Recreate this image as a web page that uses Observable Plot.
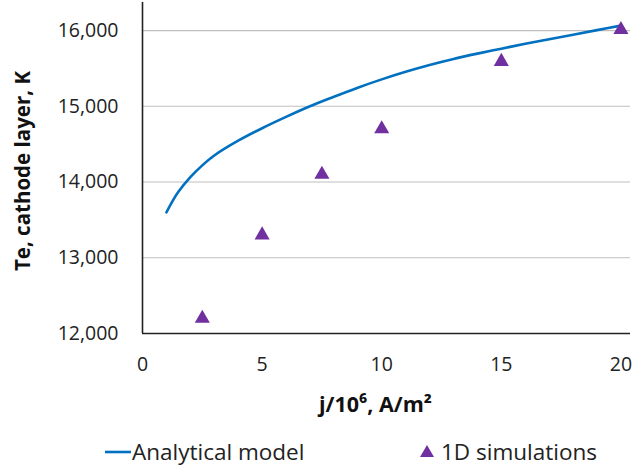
<!DOCTYPE html>
<html>
<head>
<meta charset="utf-8">
<script src="https://cdn.jsdelivr.net/npm/d3@7"></script>
<script src="https://cdn.jsdelivr.net/npm/@observablehq/plot@0.6"></script>
<style>
  html, body { margin: 0; padding: 0; background: #fff; }
  body { width: 632px; height: 469px; overflow: hidden; font-family: "Open Sans", sans-serif; }
  #legend { position: relative; height: 37px; font-size: 22.5px; color: #222; }
  #legend .item { position: absolute; top: 4px; display: flex; align-items: center; white-space: nowrap; }
</style>
</head>
<body>
<div id="chart"></div>
<div id="legend">
  <div class="item" style="left:105px"><svg width="26" height="24"><line x1="0" x2="26" y1="12" y2="12" stroke="#0070C0" stroke-width="2.6"/></svg><span style="margin-left:1px">Analytical model</span></div>
  <div class="item" style="left:418px"><svg width="18" height="24"><path d="M9,5 L16,17 L2,17 Z" fill="#7030A0"/></svg><span style="margin-left:5px">1D simulations</span></div>
</div>
<script>
// Analytical model curve
const modelJ = [1, 1.25, 1.5, 2, 2.5, 3, 4, 5, 6, 7, 8, 9, 10, 11, 12, 13, 14, 15, 16, 17, 18, 19, 20];
const modelTe = [13600, 13745, 13870, 14065, 14220, 14350, 14545, 14710, 14860, 15000, 15125, 15245, 15355, 15455, 15545, 15625, 15695, 15760, 15825, 15885, 15945, 16005, 16065];

// 1D simulations
const simJ = [2.5, 5, 7.5, 10, 15, 20];
const simTe = [12200, 13300, 14100, 14700, 15590, 16010];

const xTicks = [0, 5, 10, 15, 20];
const yTicks = [12000, 13000, 14000, 15000, 16000];
const yGrid = [13000, 14000, 15000, 16000];

const xTitle = "j/10⁶, A/m²";
const yTitle = "Te, cathode layer, K";

const model = modelJ.map((j, i) => ({j, te: modelTe[i]}));
const sim = simJ.map((j, i) => ({j, te: simTe[i]}));

const fmt = d3.format(",");

const chart = Plot.plot({
  width: 632,
  height: 432,
  marginLeft: 142,
  marginRight: 2,
  marginTop: 2,
  marginBottom: 99,
  style: {fontFamily: "Open Sans, sans-serif", fontSize: "19.5px", color: "#222", background: "#fff"},
  x: {domain: [0, 20.4], ticks: xTicks, tickFormat: d => String(d), tickSize: 0, tickPadding: 24, label: null},
  y: {domain: [12000, 16370], ticks: yTicks, tickFormat: fmt, tickSize: 0, tickPadding: 24, label: null},
  marks: [
    Plot.ruleY(yGrid, {stroke: "#bfbfbf", strokeWidth: 1.2}),
    Plot.ruleX([0], {stroke: "#222", strokeWidth: 1.6}),
    Plot.ruleY([12000], {stroke: "#222", strokeWidth: 1.6}),
    Plot.line(model, {x: "j", y: "te", stroke: "#0070C0", strokeWidth: 2.6, curve: "catmull-rom"}),
    Plot.dot(sim, {x: "j", y: "te", symbol: "triangle", r: 5.6, fill: "#7030A0", stroke: "none"}),
    Plot.text([yTitle], {frameAnchor: "left", textAnchor: "middle", rotate: -90, dx: -119, dy: 3, fontWeight: "bold", fontSize: 20.5, fill: "#111"}),
    Plot.text([xTitle], {frameAnchor: "bottom", textAnchor: "middle", dx: -11, dy: 78, fontWeight: "bold", fontSize: 21.5, fill: "#111"})
  ]
});
document.getElementById("chart").appendChild(chart);
</script>
</body>
</html>
